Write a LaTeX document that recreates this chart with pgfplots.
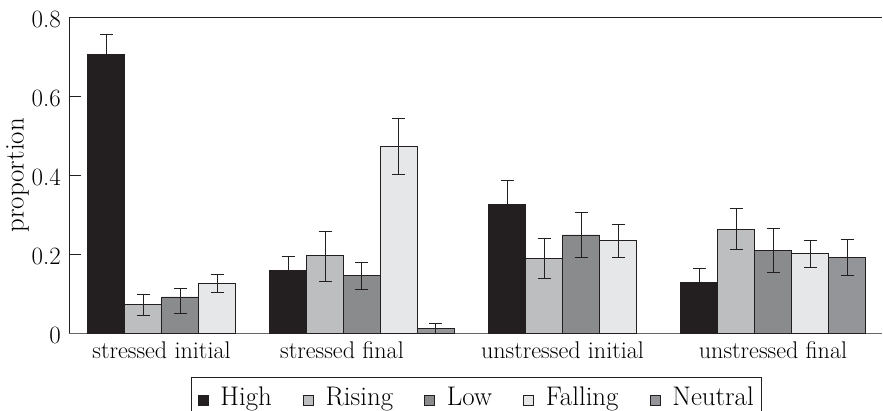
\documentclass[border=0pt]{standalone}
\usepackage{pgfplots}
\pgfplotsset{compat=1.18}
\definecolor{cHigh}{HTML}{231F20}
\definecolor{cRising}{HTML}{BCBEC0}
\definecolor{cLow}{HTML}{8A8B8D}
\definecolor{cFalling}{HTML}{E6E7E8}
\definecolor{cNeutral}{HTML}{939598}
\definecolor{edge}{HTML}{231F20}
\begin{document}
\begin{tikzpicture}
\begin{axis}[
  scale only axis,
  width=813bp, height=316bp,
  xmin=69, xmax=882, ymin=0, ymax=0.8,
  axis x line*=bottom, axis y line*=left,
  x axis line style={draw=black!60, line width=0.9bp},
  y axis line style={draw=edge, line width=0.8bp},
  tick align=inside,
  major tick length=12bp,
  ytick={0,0.2,0.4,0.6,0.8},
  yticklabels={0,0.2,0.4,0.6,0.8},
  ytick style={draw=edge, line width=0.8bp},
  yticklabel style={font=\fontsize{25}{30}\selectfont, anchor=east, inner sep=0pt, xshift=-8bp, yshift=-2bp},
  xtick={161.5,342,562.5,773},
  xticklabels={stressed initial, stressed final, unstressed initial, unstressed final},
  xtick style={draw=none},
  xticklabel style={font=\fontsize{24.2}{29}\selectfont, anchor=base, inner sep=0pt, yshift=-25bp},
  ylabel={proportion},
  every axis y label/.style={at={(axis description cs:0,0.5)}, xshift=-51.5bp, anchor=center, rotate=90, font=\fontsize{27}{32}\selectfont},
  clip=false,
  legend columns=5,
  legend style={at={(0.5015,-0.139)}, anchor=north, draw=edge, line width=0.8bp,
    font=\fontsize{27}{32}\selectfont, inner xsep=6bp, inner ysep=7bp,
    /tikz/every odd column/.append style={column sep=10bp},
    /tikz/every even column/.append style={column sep=29bp},
    cells={anchor=base west}},
  legend image code/.code={\draw[#1, line width=0.8bp] (0bp,0bp) rectangle (10bp,10bp);},
  error bars/y dir=both, error bars/y explicit,
  error bars/error bar style={line width=0.8bp, draw=edge},
  error bars/error mark options={rotate=90, mark size=6.5bp, line width=0.8bp, draw=edge},
]
\addplot[ybar, bar width=36.9, bar shift=0pt, fill=cHigh, draw=edge, line width=0.8bp]
  coordinates {(106.3,0.707) += (0,0.050) -= (0,0.050)
               (288,0.158) += (0,0.036) -= (0,0.036)
               (507,0.327) += (0,0.060) -= (0,0.060)
               (699.3,0.129) += (0,0.035) -= (0,0.035)};
\addlegendentry{High}
\addplot[ybar, bar width=36.9, bar shift=0pt, fill=cRising, draw=edge, line width=0.8bp]
  coordinates {(143.3,0.073) += (0,0.025) -= (0,0.027)
               (325.2,0.196) += (0,0.063) -= (0,0.065)
               (544.2,0.189) += (0,0.051) -= (0,0.051)
               (736.2,0.264) += (0,0.051) -= (0,0.052)};
\addlegendentry{Rising}
\addplot[ybar, bar width=36.9, bar shift=0pt, fill=cLow, draw=edge, line width=0.8bp]
  coordinates {(180.2,0.092) += (0,0.021) -= (0,0.042)
               (361.7,0.147) += (0,0.033) -= (0,0.036)
               (581,0.249) += (0,0.057) -= (0,0.058)
               (773.2,0.210) += (0,0.055) -= (0,0.056)};
\addlegendentry{Low}
\addplot[ybar, bar width=36.9, bar shift=0pt, fill=cFalling, draw=edge, line width=0.8bp]
  coordinates {(217.2,0.126) += (0,0.022) -= (0,0.022)
               (398.7,0.472) += (0,0.071) -= (0,0.070)
               (618,0.234) += (0,0.042) -= (0,0.042)
               (810.2,0.202) += (0,0.034) -= (0,0.036)};
\addlegendentry{Falling}
\addplot[ybar, bar width=36.9, bar shift=0pt, fill=cNeutral, draw=edge, line width=0.8bp]
  coordinates {(435.8,0.012) += (0,0.012) -= (0,0.011)
               (847.2,0.192) += (0,0.046) -= (0,0.046)};
\addlegendentry{Neutral}
\draw[edge, line width=0.8bp] (rel axis cs:0,1) -- (rel axis cs:1,1);
\end{axis}
\pgfresetboundingbox
\path[use as bounding box] (-69bp,-77.7bp) rectangle (814bp,333.3bp);
\end{tikzpicture}
\end{document}
